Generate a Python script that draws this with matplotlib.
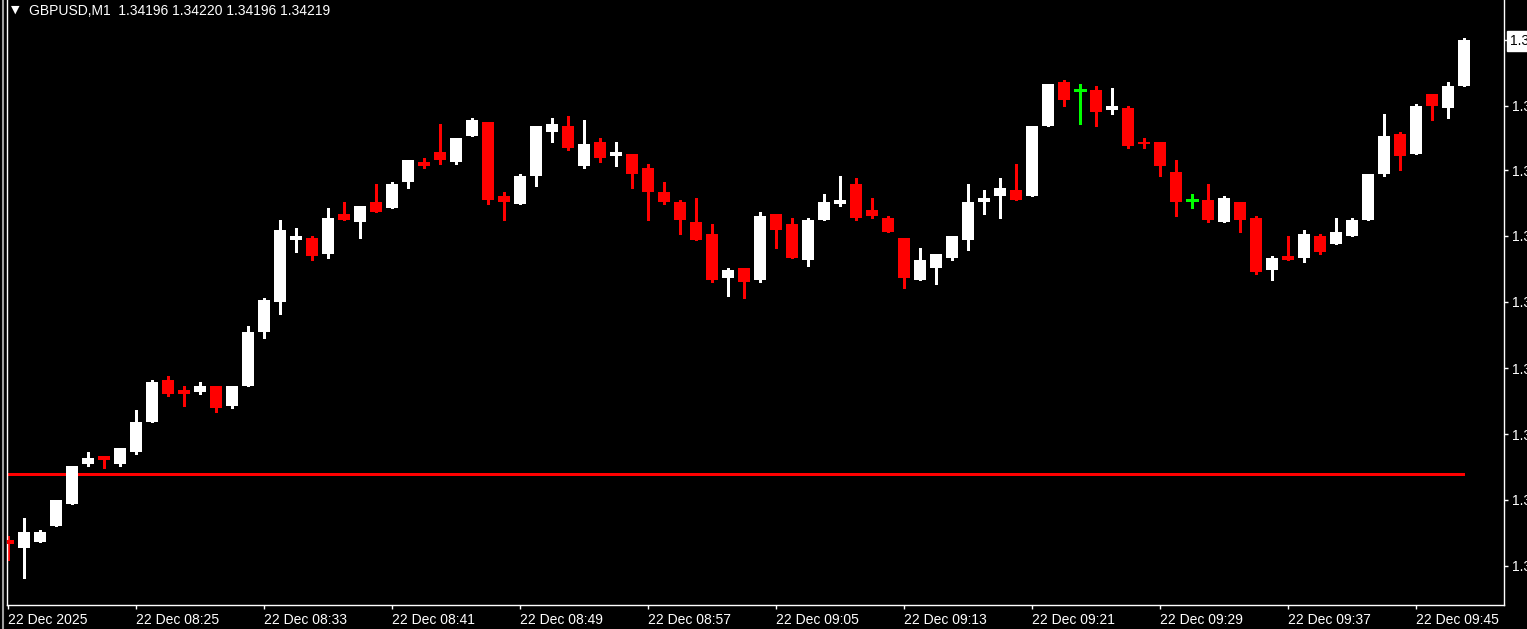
import matplotlib
matplotlib.use('Agg')
import matplotlib.pyplot as plt

symbol = 'GBPUSD,M1'

# OHLC for 92 one-minute candles, 22 Dec 08:17 .. 09:48
opens = [1.33969, 1.33965, 1.33968, 1.33976, 1.33987, 1.34007, 1.34011, 1.34007, 1.34013, 1.34028,
         1.34049, 1.34044, 1.34043, 1.34046, 1.34036, 1.34046, 1.34073, 1.34088, 1.34119, 1.34120,
         1.34112, 1.34132, 1.34128, 1.34138, 1.34135, 1.34148, 1.34158, 1.34163, 1.34158, 1.34171,
         1.34178, 1.34141, 1.34137, 1.34151, 1.34173, 1.34176, 1.34156, 1.34168, 1.34161, 1.34162,
         1.34155, 1.34143, 1.34138, 1.34128, 1.34122, 1.34100, 1.34105, 1.34099, 1.34132, 1.34127,
         1.34109, 1.34129, 1.34137, 1.34147, 1.34134, 1.34130, 1.34120, 1.34099, 1.34105, 1.34110,
         1.34119, 1.34138, 1.34141, 1.34144, 1.34141, 1.34176, 1.34198, 1.34194, 1.34194, 1.34184,
         1.34185, 1.34168, 1.34168, 1.34153, 1.34139, 1.34139, 1.34128, 1.34138, 1.34130, 1.34104,
         1.34111, 1.34110, 1.34121, 1.34117, 1.34121, 1.34129, 1.34152, 1.34172, 1.34162, 1.34192,
         1.34185, 1.34196]
highs = [1.33971, 1.33980, 1.33974, 1.33989, 1.34006, 1.34013, 1.34011, 1.34015, 1.34034, 1.34049,
         1.34051, 1.34046, 1.34048, 1.34046, 1.34046, 1.34076, 1.34090, 1.34129, 1.34125, 1.34121,
         1.34135, 1.34138, 1.34136, 1.34147, 1.34148, 1.34159, 1.34160, 1.34177, 1.34170, 1.34180,
         1.34178, 1.34143, 1.34152, 1.34176, 1.34180, 1.34181, 1.34179, 1.34170, 1.34168, 1.34162,
         1.34157, 1.34148, 1.34139, 1.34140, 1.34127, 1.34105, 1.34105, 1.34133, 1.34132, 1.34130,
         1.34130, 1.34142, 1.34151, 1.34150, 1.34140, 1.34131, 1.34120, 1.34115, 1.34112, 1.34121,
         1.34147, 1.34144, 1.34150, 1.34157, 1.34176, 1.34197, 1.34199, 1.34197, 1.34196, 1.34195,
         1.34186, 1.34170, 1.34168, 1.34159, 1.34142, 1.34147, 1.34141, 1.34138, 1.34131, 1.34111,
         1.34121, 1.34124, 1.34122, 1.34130, 1.34130, 1.34152, 1.34182, 1.34173, 1.34187, 1.34192,
         1.34198, 1.34220]
lows = [1.33959, 1.33950, 1.33968, 1.33976, 1.33987, 1.34006, 1.34005, 1.34006, 1.34012, 1.34028,
        1.34041, 1.34036, 1.34042, 1.34033, 1.34035, 1.34046, 1.34070, 1.34082, 1.34113, 1.34109,
        1.34110, 1.34129, 1.34120, 1.34133, 1.34135, 1.34145, 1.34155, 1.34157, 1.34157, 1.34171,
        1.34137, 1.34129, 1.34137, 1.34146, 1.34168, 1.34164, 1.34155, 1.34158, 1.34156, 1.34145,
        1.34129, 1.34137, 1.34122, 1.34119, 1.34098, 1.34091, 1.34090, 1.34098, 1.34115, 1.34110,
        1.34106, 1.34129, 1.34136, 1.34129, 1.34130, 1.34123, 1.34095, 1.34099, 1.34097, 1.34109,
        1.34114, 1.34132, 1.34130, 1.34139, 1.34141, 1.34176, 1.34186, 1.34177, 1.34176, 1.34182,
        1.34165, 1.34165, 1.34151, 1.34131, 1.34135, 1.34128, 1.34128, 1.34123, 1.34102, 1.34099,
        1.34109, 1.34108, 1.34112, 1.34117, 1.34121, 1.34129, 1.34151, 1.34154, 1.34162, 1.34179,
        1.34180, 1.34196]
closes = [1.33967, 1.33973, 1.33973, 1.33989, 1.34006, 1.34010, 1.34009, 1.34015, 1.34028, 1.34048,
          1.34042, 1.34042, 1.34046, 1.34035, 1.34046, 1.34073, 1.34089, 1.34124, 1.34121, 1.34111,
          1.34130, 1.34129, 1.34136, 1.34133, 1.34147, 1.34159, 1.34156, 1.34159, 1.34170, 1.34179,
          1.34139, 1.34138, 1.34151, 1.34176, 1.34177, 1.34165, 1.34167, 1.34160, 1.34163, 1.34152,
          1.34143, 1.34138, 1.34129, 1.34119, 1.34099, 1.34104, 1.34098, 1.34131, 1.34124, 1.34110,
          1.34129, 1.34138, 1.34139, 1.34130, 1.34131, 1.34123, 1.34100, 1.34109, 1.34112, 1.34121,
          1.34138, 1.34140, 1.34145, 1.34139, 1.34176, 1.34197, 1.34189, 1.34194, 1.34183, 1.34186,
          1.34166, 1.34167, 1.34156, 1.34138, 1.34139, 1.34129, 1.34140, 1.34129, 1.34103, 1.34110,
          1.34109, 1.34122, 1.34113, 1.34123, 1.34129, 1.34152, 1.34171, 1.34161, 1.34186, 1.34186,
          1.34196, 1.34219]

time_labels = ['22 Dec 2025', '22 Dec 08:25', '22 Dec 08:33', '22 Dec 08:41', '22 Dec 08:49',
               '22 Dec 08:57', '22 Dec 09:05', '22 Dec 09:13', '22 Dec 09:21', '22 Dec 09:29',
               '22 Dec 09:37', '22 Dec 09:45']
price_ticks = [1.34219, 1.34186, 1.34154, 1.34121, 1.34088, 1.34055, 1.34022, 1.33989, 1.33956]
hline_level = 1.34002

bull = 'white'
bear = '#ff0000'
doji = '#00ff00'
font = 'Liberation Sans'

W, H = 1527, 629
fig = plt.figure(figsize=(W / 100, H / 100), dpi=100, facecolor='black')
ax = fig.add_axes([6.5 / W, 24 / H, (1504 - 6.5) / W, 1 - 24 / H])
ax.set_facecolor('black')

n = len(opens)
xs = list(range(n))
body_w = 0.69

for i in xs:
    o, h, l, c = opens[i], highs[i], lows[i], closes[i]
    if c > o:
        col = bull
    elif c < o:
        col = bear
    else:
        col = doji
    ax.vlines(i, l, h, color=col, lw=0.75, antialiased=False, zorder=2)
    if c == o:
        ax.hlines(o, i - body_w / 2, i + body_w / 2, color=col, lw=0.75, antialiased=False, zorder=3)
    else:
        ax.bar(i, abs(c - o), bottom=min(o, c), width=body_w, color=col,
               linewidth=0, antialiased=False, zorder=3)

# horizontal red line
ax.plot([-1, n - 1], [hline_level, hline_level], color='#ff0000', lw=0.75,
        solid_capstyle='butt', antialiased=False, zorder=1)

ax.set_xlim((6.5 - 8) / 16, (1504 - 8) / 16)
ax.set_ylim(1.339365, 1.34239)

ax.set_xticks(list(range(0, n, 8)))
ax.set_xticklabels(time_labels)
for lab in ax.get_xticklabels():
    lab.set_horizontalalignment('left')

ax.yaxis.tick_right()
ax.set_yticks(price_ticks)
ax.set_yticklabels(['%.5f' % p for p in price_ticks])
for lab in ax.get_yticklabels():
    lab.set_horizontalalignment('left')

ax.tick_params(axis='both', colors='white', labelcolor='white', length=3, width=1,
               labelsize=10)
ax.tick_params(axis='x', pad=3)
ax.tick_params(axis='y', pad=3)
for lab in ax.get_xticklabels() + ax.get_yticklabels():
    lab.set_fontfamily(font)

for side in ['left', 'right', 'bottom']:
    ax.spines[side].set_color('white')
    ax.spines[side].set_linewidth(1)
ax.spines['top'].set_visible(False)

# window border on the far left
fig.add_artist(plt.Line2D([3 / W, 3 / W], [0, 1], color='#a0a0a0', lw=1.5))

# title
fig.text(15 / W, 1 - 10 / H, '\u25bc', color='white', fontsize=8, ha='center', va='center')
title = '%s  %.5f %.5f %.5f %.5f' % (symbol, opens[-1], highs[-1], lows[-1], closes[-1])
fig.text(29 / W, 1 - 11 / H, title, color='white', fontsize=10, ha='left', va='center',
         family=font)

# current bid box on price scale
fig.text(1510 / W, 1 - 41 / H, '%.5f' % closes[-1], color='black', fontsize=10,
         ha='left', va='center', family=font,
         bbox=dict(boxstyle='square,pad=0.2', facecolor='white', edgecolor='white'))

fig.savefig('out.png', dpi=100, facecolor='black')
